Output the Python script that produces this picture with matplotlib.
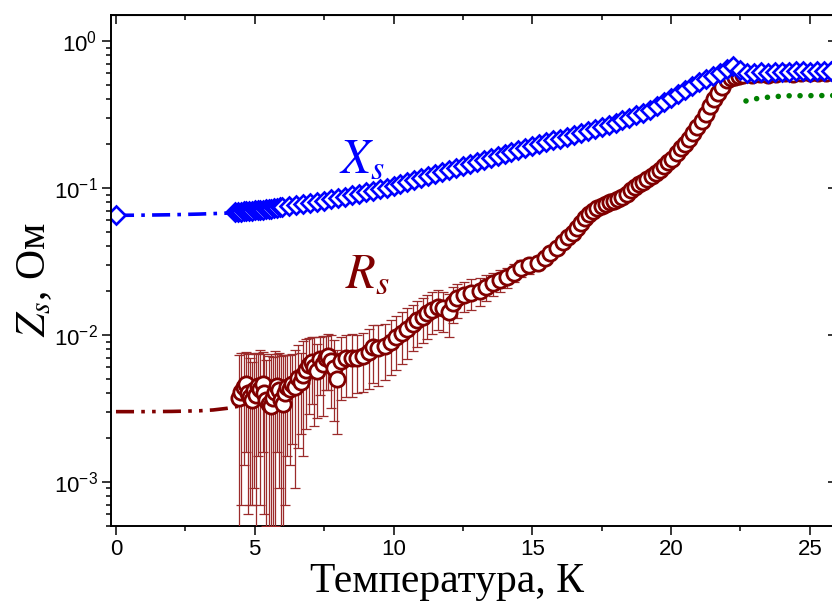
import numpy as np
import matplotlib.pyplot as plt
from matplotlib.ticker import MultipleLocator, FuncFormatter

# Xs data (blue diamonds)
xs_t = [4.3, 4.4, 4.5, 4.6, 4.7, 4.8, 4.9, 5.0, 5.1, 5.2, 5.3, 5.4, 5.5, 5.6, 5.7, 5.8, 5.9,
        6.0, 6.25, 6.5, 6.75, 7.0, 7.25, 7.5, 7.75, 8.0, 8.25, 8.5, 8.75, 9.0, 9.25, 9.5, 9.75,
        10.0, 10.25, 10.5, 10.75, 11.0, 11.25, 11.5, 11.75, 12.0, 12.25, 12.5, 12.75, 13.0, 13.25,
        13.5, 13.75, 14.0, 14.25, 14.5, 14.75, 15.0, 15.25, 15.5, 15.75, 16.0, 16.25, 16.5, 16.75,
        17.0, 17.25, 17.5, 17.75, 18.0, 18.25, 18.5, 18.75, 19.0, 19.25, 19.5, 19.75, 20.0, 20.25,
        20.5, 20.75, 21.0, 21.25, 21.5, 21.75, 22.0, 22.25, 22.5, 22.75, 23.0, 23.25, 23.5, 23.75,
        24.0, 24.25, 24.5, 24.75, 25.0, 25.25, 25.5, 25.75]
xs_v = [0.0686, 0.0690, 0.0688, 0.0693, 0.0697, 0.0695, 0.0700, 0.0703, 0.0706, 0.0704, 0.0710, 0.0714, 0.0717, 0.0721, 0.0724, 0.0730, 0.0735,
        0.0745, 0.0757, 0.0768, 0.0780, 0.0792, 0.0806, 0.0820, 0.0835, 0.0852, 0.0870, 0.0889, 0.0910, 0.0932, 0.0955, 0.0979, 0.1004,
        0.1032, 0.1062, 0.1095, 0.1130, 0.1165, 0.1200, 0.1238, 0.1276, 0.1316, 0.1358, 0.1400, 0.1444, 0.1490, 0.1536,
        0.1585, 0.1636, 0.1690, 0.1745, 0.1800, 0.1860, 0.1920, 0.1980, 0.2040, 0.2100, 0.2160, 0.2220, 0.2290, 0.2360,
        0.2430, 0.2500, 0.2580, 0.2670, 0.2780, 0.2890, 0.3000, 0.3120, 0.3240, 0.3370, 0.3600, 0.3850, 0.4100, 0.4370,
        0.4650, 0.4930, 0.5210, 0.5500, 0.5800, 0.6070, 0.6430, 0.6750, 0.6300, 0.6080, 0.6050, 0.6120, 0.6080, 0.6150,
        0.6180, 0.6120, 0.6200, 0.6230, 0.6160, 0.6210, 0.6250, 0.6190]

# Rs data (dark red circles) with error
rs_t = [4.45, 4.52, 4.60, 4.68, 4.75, 4.83, 4.90, 4.98, 5.05, 5.13, 5.20, 5.28, 5.35, 5.42, 5.50, 5.57,
        5.65, 5.72, 5.80, 5.88, 5.95, 6.03, 6.10, 6.18, 6.27, 6.35, 6.45, 6.55, 6.65, 6.75, 6.85, 6.95,
        7.05, 7.15, 7.25, 7.35, 7.45, 7.55, 7.65, 7.75, 7.85, 7.97, 8.10, 8.30, 8.50, 8.70, 8.90, 9.10,
        9.27, 9.45, 9.70, 9.90, 10.10, 10.30, 10.50, 10.70, 10.85, 11.05, 11.20, 11.40, 11.60, 11.80,
        12.00, 12.15, 12.30, 12.55, 12.80, 13.10, 13.35, 13.60, 13.85, 14.10, 14.35, 14.60, 14.90, 15.20,
        15.45, 15.65, 15.90, 16.10, 16.30, 16.45, 16.60, 16.75, 16.90, 17.05, 17.20, 17.35, 17.50, 17.65,
        17.80, 17.95, 18.10, 18.25, 18.40, 18.55, 18.70, 18.85, 19.00, 19.15, 19.30, 19.45, 19.60, 19.75,
        19.90, 20.05, 20.20, 20.35, 20.50, 20.65, 20.80, 20.95, 21.10, 21.25, 21.40, 21.55, 21.70, 21.85,
        22.00, 22.15, 22.30, 22.45, 22.60, 22.90, 23.20, 23.50, 23.80, 24.10, 24.40, 24.70, 25.00, 25.30,
        25.60, 25.90]
rs_v = [0.0037, 0.0041, 0.0044, 0.0046, 0.0040, 0.0038, 0.0036, 0.0042, 0.0039, 0.0045, 0.0043, 0.0046, 0.0040, 0.0036, 0.0034, 0.0033,
        0.0037, 0.0041, 0.0045, 0.0042, 0.0036, 0.0034, 0.0040, 0.0044, 0.0043, 0.0046, 0.0044, 0.0051, 0.0048, 0.0053, 0.0058, 0.0062,
        0.0065, 0.0060, 0.0057, 0.0068, 0.0063, 0.0070, 0.0072, 0.0066, 0.0059, 0.0050, 0.0066, 0.0069, 0.0070, 0.0070, 0.0072, 0.0076,
        0.0082, 0.0081, 0.0084, 0.0090, 0.0096, 0.0103, 0.0110, 0.0118, 0.0126, 0.0133, 0.0140, 0.0148, 0.0155, 0.0151,
        0.0143, 0.0165, 0.0177, 0.0186, 0.0193, 0.0200, 0.0212, 0.0224, 0.0235, 0.0246, 0.0265, 0.0284, 0.0297, 0.0310,
        0.0335, 0.0359, 0.0390, 0.0430, 0.0465, 0.0490, 0.0530, 0.0575, 0.0620, 0.0660, 0.0695, 0.0725, 0.0755, 0.0780,
        0.0800, 0.0815, 0.0835, 0.0870, 0.0915, 0.0965, 0.1010, 0.1060, 0.1100, 0.1150, 0.1200, 0.1260, 0.1320, 0.1400,
        0.1490, 0.1580, 0.1720, 0.1860, 0.2000, 0.2140, 0.2360, 0.2580, 0.2840, 0.3200, 0.3600, 0.4000, 0.4400, 0.4860,
        0.5400, 0.5550, 0.5650, 0.5750, 0.5850, 0.5900, 0.5950, 0.5900, 0.5980, 0.6000, 0.5950, 0.6020, 0.6000, 0.6050,
        0.6000, 0.6030]
rs_err = [0.0036, 0.0034, 0.0031, 0.0030, 0.0034, 0.0031, 0.0029, 0.0033, 0.0035, 0.0030, 0.0036, 0.0030, 0.0034, 0.0031, 0.0038, 0.0041,
          0.0034, 0.0036, 0.0029, 0.0033, 0.0036, 0.0039, 0.0033, 0.0029, 0.0030, 0.0028, 0.0035, 0.0034, 0.0027, 0.0038, 0.0035, 0.0033,
          0.0031, 0.0036, 0.0030, 0.0029, 0.0035, 0.0028, 0.0030, 0.0034, 0.0033, 0.0029, 0.0030, 0.0031, 0.0032, 0.0030, 0.0031, 0.0033,
          0.0035, 0.0036, 0.0035, 0.0037, 0.0038, 0.0040, 0.0042, 0.0041, 0.0043, 0.0045, 0.0046, 0.0047, 0.0048, 0.0046,
          0.0047, 0.0045, 0.0046, 0.0044, 0.0045, 0.0043, 0.0042, 0.0041, 0.0040, 0.0039, 0.0038, 0.0037, 0.0036, 0.0035,
          0.0034, 0.0033, 0.0032, 0.0031, 0.0030, 0.0030, 0.0030, 0.0030, 0.0030, 0.0030, 0.0030, 0.0030, 0.0030, 0.0030,
          0.0030, 0.0030, 0.0030, 0.0030, 0.0030, 0.0030, 0.0030, 0.0030, 0.0030, 0.0030, 0.0030, 0.0030, 0.0030, 0.0030,
          0.0030, 0.0030, 0.0030, 0.0030, 0.0030, 0.0030, 0.0030, 0.0030, 0.0030, 0.0030, 0.0030, 0.0030, 0.0030, 0.0030,
          0.0030, 0.0030, 0.0030, 0.0030, 0.0030, 0.0030, 0.0030, 0.0030, 0.0030, 0.0030, 0.0030, 0.0030, 0.0030, 0.0030,
          0.0030, 0.0030]

# extrapolation to T = 0
xs_fit_t = [0.0, 1.0, 2.0, 3.0, 4.0, 4.3]
xs_fit_v = [0.0650, 0.0652, 0.0656, 0.0663, 0.0673, 0.0679]
rs_fit_t = [0.0, 1.0, 2.0, 3.0, 3.5, 4.0, 4.4]
rs_fit_v = [0.00300, 0.00300, 0.00301, 0.00304, 0.00308, 0.00316, 0.00326]

# green dotted line above Tc
g_t = [22.7, 23.1, 23.6, 24.2, 25.9]
g_v = [0.390, 0.405, 0.416, 0.423, 0.425]

blue = '#0000ff'
red = '#800000'

plt.rcParams['font.family'] = ['Liberation Sans', 'DejaVu Sans']
plt.rcParams['mathtext.fontset'] = 'custom'
plt.rcParams['mathtext.rm'] = 'Liberation Sans'
plt.rcParams['mathtext.it'] = 'Liberation Sans:italic'

fig = plt.figure(figsize=(8.32, 6.01), dpi=100)
ax = fig.add_axes([110.7 / 832, 1 - 526 / 601, (837 - 110.7) / 832, (526 - 15) / 601])
ax.set_yscale('log')

ax.plot(rs_fit_t, rs_fit_v, color=red, lw=2.6, dashes=[5, 2, 1, 2, 1, 2], zorder=2)
ax.plot(xs_fit_t, xs_fit_v, color=blue, lw=2.6, dashes=[5, 2, 1, 2], marker='D', markevery=[0],
        mfc='white', mec=blue, ms=9, mew=1.9, zorder=2)

ax.errorbar(rs_t, rs_v, yerr=rs_err, fmt='none', ecolor='#9b2b2b', elinewidth=0.9,
            capsize=3.8, capthick=0.9, zorder=3)
ax.plot(rs_t, rs_v, 'o', mfc='white', mec=red, ms=11, mew=2, ls='none', zorder=4)
ax.plot(g_t, g_v, color='#008000', lw=4, ls=(0, (0.01, 1.95)), dash_capstyle='round', zorder=4)
ax.plot(xs_t, xs_v, 'D', mfc='white', mec=blue, ms=9, mew=1.9, ls='none', zorder=5)

ax.set_xlim(-0.19, 25.98)
ax.set_ylim(5e-4, 1.5)

ax.xaxis.set_major_locator(MultipleLocator(5))
ax.xaxis.set_minor_locator(MultipleLocator(2.5))
ax.yaxis.set_major_formatter(FuncFormatter(lambda v, p: r'$10^{%d}$' % round(np.log10(v))))
ax.tick_params(which='both', direction='out', width=1.1, labelsize=16, pad=3)
ax.tick_params(which='major', length=6.5)
ax.tick_params(which='minor', length=3.4)
for s in ax.spines.values():
    s.set_linewidth(1.4)

top = ax.secondary_xaxis('top')
top.xaxis.set_major_locator(MultipleLocator(5))
top.xaxis.set_minor_locator(MultipleLocator(2.5))
top.tick_params(which='both', direction='in', width=1.1, labeltop=False)
top.tick_params(which='major', length=6.5)
top.tick_params(which='minor', length=3.4)
right = ax.secondary_yaxis('right')
right.tick_params(which='both', direction='in', width=1.1, labelright=False)
right.tick_params(which='major', length=6.5)
right.tick_params(which='minor', length=0)

fig.text(447 / 832, 1 - 582 / 601, 'Температура, К', family='Liberation Serif', fontsize=30,
         ha='center', va='center')
fig.text(35 / 832, 1 - 280 / 601, r'$Z_s$, Ом', family='Liberation Serif', fontsize=30,
         ha='center', va='center', rotation=90, math_fontfamily='stix')
fig.text(362 / 832, 1 - 160 / 601, r'$X_s$', color=blue, fontsize=35, ha='center', va='center',
         math_fontfamily='stix')
fig.text(367 / 832, 1 - 275 / 601, r'$R_s$', color=red, fontsize=35, ha='center', va='center',
         math_fontfamily='stix')

fig.savefig('out.png', dpi=100)
